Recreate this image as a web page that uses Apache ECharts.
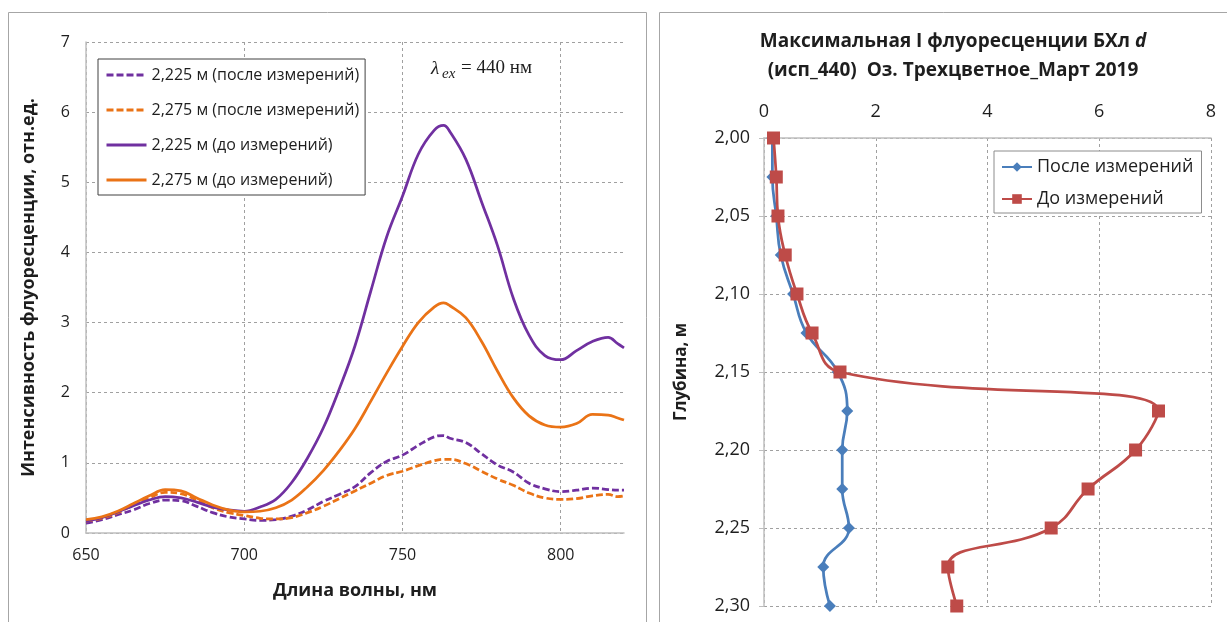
<!DOCTYPE html>
<html>
<head>
<meta charset="utf-8">
<script src="https://cdn.jsdelivr.net/npm/echarts@6/dist/echarts.min.js"></script>
<style>
  html, body { margin: 0; padding: 0; background: #ffffff; }
  #chart { width: 1227px; height: 622px; }
</style>
</head>
<body>
<div id="chart"></div>
<script>
// Fluorescence emission spectra (excitation 440 nm), wavelength in nm
const wavelengths = [650, 655, 660, 665, 670, 675, 680, 685, 690, 695, 700, 705, 710, 715, 720, 725, 730, 735, 740, 745, 750, 755, 760, 763, 765, 770, 775, 780, 785, 790, 795, 800, 805, 810, 815, 818, 820];

const spec2225After  = [0.14, 0.19, 0.26, 0.33, 0.42, 0.47, 0.46, 0.38, 0.29, 0.23, 0.20, 0.18, 0.19, 0.24, 0.33, 0.45, 0.55, 0.66, 0.86, 1.02, 1.11, 1.25, 1.37, 1.39, 1.35, 1.29, 1.13, 0.97, 0.87, 0.71, 0.63, 0.59, 0.61, 0.64, 0.62, 0.61, 0.61];
const spec2275After  = [0.17, 0.21, 0.29, 0.40, 0.50, 0.58, 0.56, 0.47, 0.36, 0.29, 0.25, 0.21, 0.20, 0.22, 0.29, 0.38, 0.49, 0.60, 0.71, 0.82, 0.88, 0.96, 1.03, 1.05, 1.05, 0.99, 0.88, 0.77, 0.68, 0.57, 0.50, 0.48, 0.49, 0.53, 0.55, 0.52, 0.53];
const spec2225Before = [0.17, 0.22, 0.30, 0.39, 0.47, 0.52, 0.50, 0.44, 0.37, 0.33, 0.31, 0.37, 0.48, 0.72, 1.07, 1.50, 2.05, 2.67, 3.45, 4.22, 4.80, 5.40, 5.74, 5.81, 5.72, 5.33, 4.72, 4.10, 3.35, 2.82, 2.53, 2.47, 2.60, 2.73, 2.79, 2.70, 2.64];
const spec2275Before = [0.19, 0.23, 0.31, 0.42, 0.53, 0.62, 0.60, 0.50, 0.40, 0.33, 0.30, 0.31, 0.36, 0.47, 0.66, 0.89, 1.17, 1.49, 1.88, 2.28, 2.66, 3.00, 3.22, 3.28, 3.24, 3.07, 2.73, 2.31, 1.93, 1.67, 1.54, 1.51, 1.56, 1.69, 1.68, 1.64, 1.61];

const spectrumNames = [
  '2,225 м (после измерений)',
  '2,275 м (после измерений)',
  '2,225 м (до измерений)',
  '2,275 м (до измерений)'
];

// Maximum fluorescence intensity against depth, m
const depths     = [2.000, 2.025, 2.050, 2.075, 2.100, 2.125, 2.150, 2.175, 2.200, 2.225, 2.250, 2.275, 2.300];
const peakAfter  = [0.15, 0.15, 0.22, 0.30, 0.52, 0.76, 1.32, 1.49, 1.40, 1.40, 1.52, 1.06, 1.18];
const peakBefore = [0.17, 0.22, 0.25, 0.38, 0.59, 0.86, 1.36, 7.06, 6.65, 5.80, 5.14, 3.29, 3.45];

const profileNames = ['После измерений', 'До измерений'];

const PURPLE = '#7030a0';
const ORANGE = '#ea7316';
const BLUE = '#4a7ebb';
const RED = '#be4b48';
const GRID_COLOR = '#a0a0a0';
const TEXT = '#1e1e1e';
const FONT = "'Open Sans', 'Noto Sans', sans-serif";

const pairs = (xs, ys) => xs.map((x, i) => [x, ys[i]]);
const depthPairs = (vals) => vals.map((v, i) => [v, depths[i]]);

const spectrumSeries = [
  { name: spectrumNames[0], data: spec2225After,  color: PURPLE, dash: [7, 3] },
  { name: spectrumNames[1], data: spec2275After,  color: ORANGE, dash: [7, 3] },
  { name: spectrumNames[2], data: spec2225Before, color: PURPLE, dash: 'solid' },
  { name: spectrumNames[3], data: spec2275Before, color: ORANGE, dash: 'solid' }
].map(s => ({
  name: s.name,
  type: 'line',
  xAxisIndex: 0,
  yAxisIndex: 0,
  smooth: 0.4,
  showSymbol: false,
  symbol: 'none',
  color: s.color,
  lineStyle: { color: s.color, width: 2.75, type: s.dash },
  data: pairs(wavelengths, s.data),
  z: 3
}));

const profileSeries = [
  {
    name: profileNames[0],
    type: 'line',
    xAxisIndex: 1,
    yAxisIndex: 1,
    smooth: 0.45,
    symbol: 'diamond',
    symbolSize: 12,
    color: BLUE,
    itemStyle: { color: BLUE },
    lineStyle: { color: BLUE, width: 2.75 },
    data: depthPairs(peakAfter),
    z: 3
  },
  {
    name: profileNames[1],
    type: 'line',
    xAxisIndex: 1,
    yAxisIndex: 1,
    smooth: 0.45,
    symbol: 'rect',
    symbolSize: 13,
    color: RED,
    itemStyle: { color: RED },
    lineStyle: { color: RED, width: 2.75 },
    data: depthPairs(peakBefore),
    z: 4
  }
];

const dashedSplit = (showMax) => ({
  show: true,
  showMaxLine: showMax,
  lineStyle: { color: GRID_COLOR, type: [3, 3], width: 1 }
});

const chart = echarts.init(document.getElementById('chart'), null, { renderer: 'canvas' });

chart.setOption({
  animation: false,
  backgroundColor: '#ffffff',
  textStyle: { fontFamily: FONT },
  title: {
    left: 948,
    top: 22,
    textAlign: 'center',
    text: '{b|Максимальная I флуоресценции БХл }{i|d}\n{b|(исп_440)  Оз. Трехцветное_Март 2019}',
    textStyle: {
      rich: {
        b: { fontFamily: FONT, fontWeight: 'bold', fontSize: 19, color: TEXT, lineHeight: 29 },
        i: { fontFamily: FONT, fontWeight: 'bold', fontStyle: 'italic', fontSize: 19, color: TEXT, lineHeight: 29 }
      }
    }
  },
  legend: [
    {
      data: spectrumNames,
      orient: 'vertical',
      left: 98,
      top: 59,
      padding: [6, 6, 5, 7],
      itemGap: 15,
      itemWidth: 40,
      itemHeight: 14,
      itemStyle: { opacity: 0 },
      lineStyle: { width: 3 },
      backgroundColor: '#ffffff',
      borderColor: '#404040',
      borderWidth: 1,
      textStyle: { fontFamily: FONT, fontSize: 16, color: TEXT, lineHeight: 20 }
    },
    {
      data: profileNames,
      orient: 'vertical',
      left: 994,
      top: 151,
      padding: [6, 8, 4, 7],
      itemGap: 12,
      itemWidth: 30,
      itemHeight: 12,
      backgroundColor: '#ffffff',
      borderColor: '#8c8c8c',
      borderWidth: 1,
      textStyle: { fontFamily: FONT, fontSize: 18, color: TEXT, lineHeight: 20 }
    }
  ],
  grid: [
    { left: 86, top: 42, width: 538, height: 491 },
    { left: 764, top: 138, width: 447, height: 468 }
  ],
  xAxis: [
    {
      gridIndex: 0,
      type: 'value',
      min: 650,
      max: 820,
      interval: 50,
      name: 'Длина волны, нм',
      nameLocation: 'middle',
      nameGap: 49,
      nameTextStyle: { fontFamily: FONT, fontWeight: 'bold', fontSize: 18, color: TEXT },
      axisLine: { show: true, lineStyle: { color: '#bfbfbf', width: 1.5 } },
      axisTick: { show: false },
      axisLabel: { fontFamily: FONT, fontSize: 16, color: TEXT, margin: 14, showMaxLabel: false },
      splitLine: dashedSplit(false)
    },
    {
      gridIndex: 1,
      type: 'value',
      position: 'top',
      min: 0,
      max: 8,
      interval: 2,
      axisLine: { show: true, onZero: false, lineStyle: { color: '#bfbfbf', width: 1.5 } },
      axisTick: { show: false },
      axisLabel: { fontFamily: FONT, fontSize: 18, color: TEXT, margin: 17 },
      splitLine: dashedSplit(true)
    }
  ],
  yAxis: [
    {
      gridIndex: 0,
      type: 'value',
      min: 0,
      max: 7,
      interval: 1,
      name: 'Интенсивность флуоресценции, отн.ед.',
      nameLocation: 'middle',
      nameGap: 48,
      nameTextStyle: { fontFamily: FONT, fontWeight: 'bold', fontSize: 18, color: TEXT },
      axisLine: { show: true, lineStyle: { color: '#bfbfbf', width: 1.5 } },
      axisTick: { show: false },
      axisLabel: { fontFamily: FONT, fontSize: 16, color: TEXT, margin: 16 },
      splitLine: dashedSplit(true)
    },
    {
      gridIndex: 1,
      type: 'value',
      inverse: true,
      min: 2,
      max: 2.3,
      interval: 0.05,
      name: 'Глубина, м',
      nameLocation: 'middle',
      nameGap: 74,
      nameTextStyle: { fontFamily: FONT, fontWeight: 'bold', fontSize: 17, color: TEXT },
      axisLine: { show: true, onZero: false, lineStyle: { color: '#bfbfbf', width: 1.5 } },
      axisTick: { show: true, length: 5, lineStyle: { color: '#bfbfbf' } },
      axisLabel: {
        fontFamily: FONT, fontSize: 18, color: TEXT, margin: 14,
        formatter: v => v.toFixed(2).replace('.', ',')
      },
      splitLine: dashedSplit(true)
    }
  ],
  graphic: [
    { type: 'rect', shape: { x: 8.5, y: 12.5, width: 638, height: 640 }, style: { fill: 'none', stroke: '#a6a6a6', lineWidth: 1 }, z: -10, silent: true },
    { type: 'rect', shape: { x: 659.5, y: 12.5, width: 640, height: 640 }, style: { fill: 'none', stroke: '#a6a6a6', lineWidth: 1 }, z: -10, silent: true },
    { type: 'text', left: 431, top: 59, style: { text: 'λ', font: "italic 19px 'Liberation Serif', serif", fill: TEXT }, z: 10 },
    { type: 'text', left: 442, top: 67, style: { text: 'ex', font: "italic 15px 'Liberation Serif', serif", fill: TEXT }, z: 10 },
    { type: 'text', left: 461, top: 59, style: { text: '= 440 нм', font: "19px 'Liberation Serif', serif", fill: TEXT }, z: 10 }
  ],
  series: spectrumSeries.concat(profileSeries)
});
</script>
</body>
</html>
